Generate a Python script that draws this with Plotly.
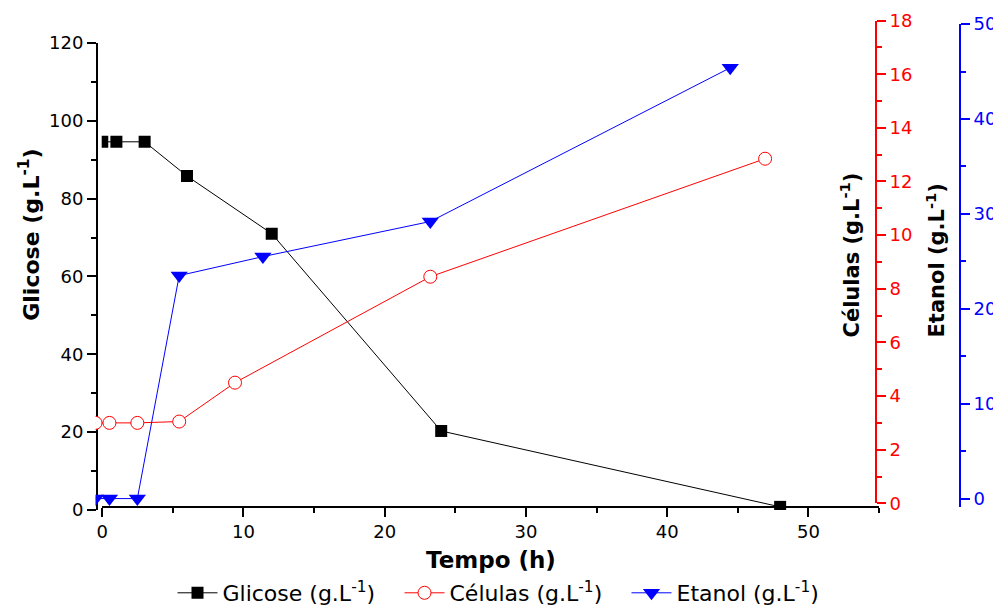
import plotly.graph_objects as go

# The page body has an 8px margin; figure is sized to fit the window.
OFF = 8
W, H = 1001 - OFF, 614 - OFF
def X(px):
    return (px - OFF) / W
def Y(py):
    return (H - (py - OFF)) / H

# ---- data ----
tempo_glicose = [0, 1, 3, 6, 12, 24, 48]
glicose = [94.6, 94.6, 94.6, 85.8, 71.0, 20.3, 0.8]

tempo_celulas = [0, 1, 3, 6, 10, 24, 48]
celulas = [3.0, 3.0, 3.0, 3.05, 4.5, 8.45, 12.85]

tempo_etanol = [0, 1, 3, 6, 12, 24, 45.5]
etanol = [0.0, 0.0, 0.0, 23.5, 25.5, 29.2, 45.4]

x_ticks = [0, 10, 20, 30, 40, 50]

FONT = "DejaVu Sans"
RED = "#ff0000"
BLUE = "#0000ff"

fig = go.Figure()

fig.add_trace(go.Scatter(
    x=tempo_glicose, y=glicose, name="Glicose (g.L<sup>-1</sup>)",
    mode="lines+markers", xaxis="x", yaxis="y",
    line=dict(color="black", width=1),
    marker=dict(symbol="square", size=12, color="black"),
))
fig.add_trace(go.Scatter(
    x=tempo_celulas, y=celulas, name="Células (g.L<sup>-1</sup>)",
    mode="lines+markers", xaxis="x2", yaxis="y2",
    line=dict(color=RED, width=1),
    marker=dict(symbol="circle", size=13, color="white",
                line=dict(color=RED, width=1)),
))
fig.add_trace(go.Scatter(
    x=tempo_etanol, y=etanol, name="Etanol (g.L<sup>-1</sup>)",
    mode="lines+markers", xaxis="x3", yaxis="y3",
    line=dict(color=BLUE, width=1),
    marker=dict(symbol="triangle-down", size=15, color=BLUE),
))

tickfont = dict(family=FONT, size=18, color="black")

common_axis = dict(showgrid=False, zeroline=False, showline=True,
                   linewidth=2, ticks="outside", tickwidth=2, ticklen=9,
                   automargin=False)

# secondary layers (Células / Etanol) have their own, slightly shifted time axis
LAYER_X0, LAYER_X1, LAYER_PX_PER_H = 95.5, 876, 13.95

fig.update_layout(
    width=W, height=H, autosize=False,
    template="none",
    margin=dict(l=0, r=0, t=0, b=0, pad=0),
    paper_bgcolor="white", plot_bgcolor="rgba(0,0,0,0)",
    showlegend=True,
    xaxis=dict(
        domain=[X(101.7), X(879)], range=[-0.04, 55],
        anchor="free", position=Y(511.7),
        tickvals=x_ticks, linecolor="black", tickcolor="black",
        tickfont=tickfont,
        minor=dict(ticks="outside", dtick=5, ticklen=5, tickwidth=2, tickcolor="black"),
        **common_axis,
    ),
    yaxis=dict(
        domain=[Y(515), Y(43.3)], range=[0, 120],
        anchor="free", position=X(97), side="left",
        dtick=20, linecolor="black", tickcolor="black", tickfont=tickfont,
        minor=dict(ticks="outside", dtick=10, ticklen=5, tickwidth=2, tickcolor="black"),
        **common_axis,
    ),
    xaxis2=dict(
        domain=[X(LAYER_X0), X(LAYER_X1)],
        range=[0, (LAYER_X1 - LAYER_X0) / LAYER_PX_PER_H],
        anchor="y2", visible=False,
    ),
    yaxis2=dict(
        domain=[Y(508.3), Y(20.7)], range=[0, 18],
        anchor="free", position=X(876), side="right",
        dtick=2, linecolor=RED, tickcolor=RED,
        tickfont=dict(family=FONT, size=18, color=RED),
        minor=dict(ticks="outside", dtick=1, ticklen=5, tickwidth=2, tickcolor=RED),
        **common_axis,
    ),
    xaxis3=dict(
        domain=[X(LAYER_X0), X(LAYER_X1)],
        range=[0, (LAYER_X1 - LAYER_X0) / LAYER_PX_PER_H],
        anchor="y3", visible=False,
    ),
    yaxis3=dict(
        domain=[Y(511.7), Y(24.3)], range=[-0.856, 50],
        anchor="free", position=X(960), side="right",
        dtick=10, linecolor=BLUE, tickcolor=BLUE,
        tickfont=dict(family=FONT, size=18, color=BLUE),
        minor=dict(ticks="outside", dtick=5, ticklen=5, tickwidth=2, tickcolor=BLUE),
        **common_axis,
    ),
    legend=dict(
        orientation="h", x=X(513), xanchor="center", y=Y(599), yanchor="middle",
        font=dict(family=FONT, size=22, color="black"),
        bgcolor="rgba(0,0,0,0)", borderwidth=0,
        itemwidth=40, tracegroupgap=0,
        entrywidth=172, entrywidthmode="pixels",
    ),
)

title_font = dict(family=FONT, size=23, color="black", weight="bold")
fig.add_annotation(text="Tempo (h)", xref="paper", yref="paper",
                   x=X(491), y=Y(566), xanchor="center", yanchor="middle",
                   showarrow=False, font=title_font)
fig.add_annotation(text="Glicose (g.L<sup>-1</sup>)", xref="paper", yref="paper",
                   x=X(29), y=Y(237), xanchor="center", yanchor="middle",
                   textangle=-90, showarrow=False,
                   font=dict(family=FONT, size=22, color="black", weight="bold"))
fig.add_annotation(text="Células (g.L<sup>-1</sup>)", xref="paper", yref="paper",
                   x=X(850), y=Y(258), xanchor="center", yanchor="middle",
                   textangle=-90, showarrow=False,
                   font=dict(family=FONT, size=21, color="black", weight="bold"))
fig.add_annotation(text="Etanol (g.L<sup>-1</sup>)", xref="paper", yref="paper",
                   x=X(936), y=Y(263), xanchor="center", yanchor="middle",
                   textangle=-90, showarrow=False,
                   font=dict(family=FONT, size=21, color="black", weight="bold"))

fig.write_html("out.html")
